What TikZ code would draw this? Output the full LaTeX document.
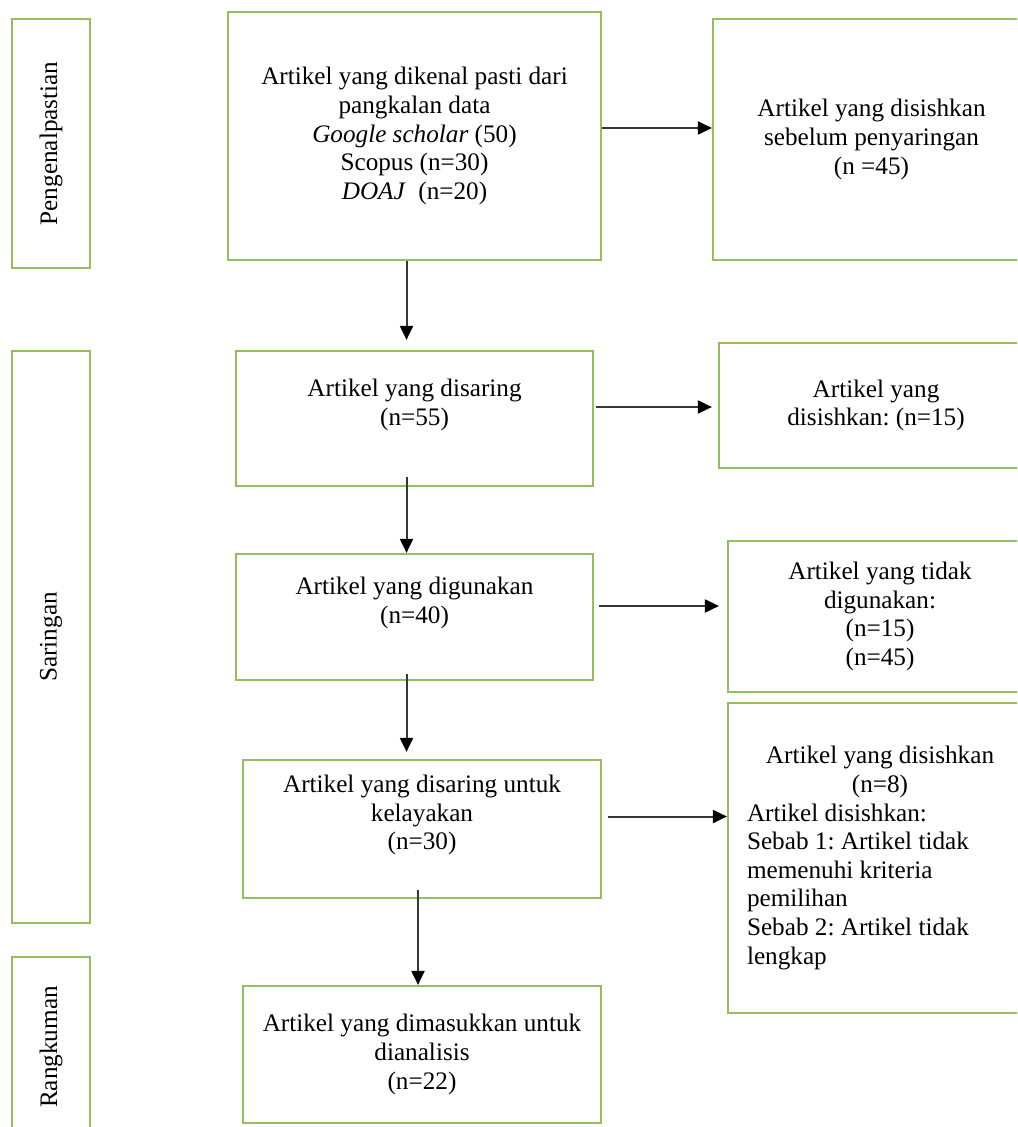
\documentclass[tikz,border=0pt]{standalone}
\usepackage{fontspec}
\usepackage{graphicx}
\setmainfont{Liberation Serif}
\usetikzlibrary{arrows.meta,calc}
\definecolor{boxgreen}{RGB}{150,190,95}
\definecolor{arrowgray}{RGB}{55,55,55}
\newcommand{\lowpad}{\\\rule[-2.2pt]{0pt}{2.2pt}}
\frenchspacing
\begin{document}
\begin{tikzpicture}[x=0.5pt,y=-0.5pt,
  box/.style={draw=boxgreen,line width=1.1pt,inner sep=0pt,align=center,
    font=\fontsize{12.6}{14.3}\selectfont},
  sidebox/.style={box,minimum width=39pt},
  flow/.style={draw=arrowgray,line width=1pt,
    -{Triangle[length=7pt,width=6.5pt,color=black]}},
]
\useasboundingbox (0,0) rectangle (1017,1127);
\clip (0,0) rectangle (1017,1127);

% phase boxes
\node[sidebox,minimum height=124.5pt] (P) at (51,143.5) {\rotatebox{90}{Pengenalpastian}};
\node[sidebox,minimum height=286pt] (S) at (51,637) {\rotatebox{90}{Saringan}};
\node[sidebox,minimum height=90pt] (R) at (51,1047) {\rotatebox{90}{Rangkuman}};

% main column
\node[box,minimum width=186.5pt,minimum height=124pt] (A) at (414.5,136)
  {Artikel yang dikenal pasti dari\\pangkalan data\\\textit{Google scholar} (50)\\Scopus (n=30)\\\textit{DOAJ}\ \ (n=20)};
\node[box,minimum width=178.5pt,minimum height=67.5pt] (C) at (414.5,418.5)
  {Artikel yang disaring\\(n=55)\lowpad};
\node[box,minimum width=178.5pt,minimum height=63pt] (E) at (414.5,617)
  {Artikel yang digunakan\\(n=40)\lowpad};
\node[box,minimum width=179pt,minimum height=69pt] (G) at (422,829)
  {Artikel yang disaring untuk\\kelayakan\\(n=30)\lowpad};
\node[box,minimum width=179pt,minimum height=68.5pt] (I) at (422,1054.5)
  {Artikel yang dimasukkan untuk\\dianalisis\\(n=22)};

% right column
\node[box,minimum width=158.5pt,minimum height=120.5pt] (B) at (871.5,139.5)
  {Artikel yang disishkan\\sebelum penyaringan\\(n =45)};
\node[box,minimum width=157pt,minimum height=62.5pt] (D) at (876,405.5)
  {Artikel yang\\disishkan: (n=15)};
\node[box,minimum width=152pt,minimum height=75.5pt] (F) at (880,616.5)
  {Artikel yang tidak\\digunakan:\\(n=15)\\(n=45)};
\node[box,minimum width=152pt,minimum height=155pt,text width=133pt,align=flush left] (H) at (880,858)
  {\centering Artikel yang disishkan\\(n=8)\par
   \raggedright Artikel disishkan:\\Sebab 1: Artikel tidak\\memenuhi kriteria\\pemilihan\\Sebab 2: Artikel tidak\\lengkap\par};

% vertical connectors
\draw[flow] ([xshift=-4pt]A.south) -- ([xshift=-4pt,yshift=5pt]C.north);
\draw[flow] ([xshift=-4pt,yshift=5pt]C.south) -- ([xshift=-4pt]E.north);
\draw[flow] ([xshift=-4pt,yshift=3.5pt]E.south) -- ([xshift=-4pt,yshift=3.5pt]E.south |- G.north);
\draw[flow] ([xshift=-2pt,yshift=4.5pt]G.south) -- ([xshift=-2pt]I.north);

% horizontal connectors
\draw[flow] ([yshift=4pt]A.east) -- ([yshift=4pt]A.east -| B.west);
\draw[flow] ([yshift=5.75pt,xshift=1pt]C.east) -- ($([yshift=5.75pt]C.east -| D.west)+(-6,0)$);
\draw[flow] ([yshift=5.5pt,xshift=2.5pt]E.east) -- ($([yshift=5.5pt]E.east -| F.west)+(-8,0)$);
\draw[flow] ([yshift=6.25pt,xshift=3pt]G.east) -- ([yshift=6.25pt]G.east -| H.west);
\end{tikzpicture}
\end{document}
